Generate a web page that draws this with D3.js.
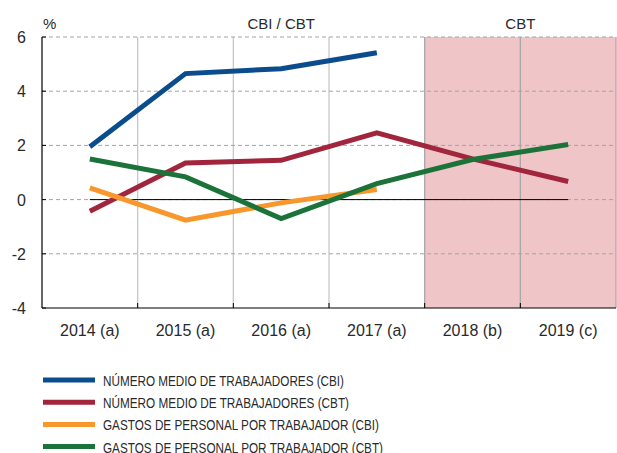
<html>
<head>
<script src="https://cdnjs.cloudflare.com/ajax/libs/d3/7.8.5/d3.min.js"></script>
<style>
  body { margin: 0; background: #fff; }
  text { font-family: "Liberation Sans", Arial, sans-serif; fill: #2a2a2a; }
</style>
</head>
<body>
<svg id="chart" width="617" height="453"></svg>
<script>
// data
var years = ["2014 (a)", "2015 (a)", "2016 (a)", "2017 (a)", "2018 (b)", "2019 (c)"];
var yTicks = [6, 4, 2, 0, -2, -4];
var numCBI = [1.95, 4.65, 4.83, 5.42, null, null];
var numCBT = [-0.43, 1.35, 1.45, 2.46, 1.5, 0.67];
var gasCBI = [0.43, -0.76, -0.12, 0.37, null, null];
var gasCBT = [1.5, 0.84, -0.7, 0.59, 1.48, 2.03];
var seriesNames = [
  "NÚMERO MEDIO DE TRABAJADORES (CBI)",
  "NÚMERO MEDIO DE TRABAJADORES (CBT)",
  "GASTOS DE PERSONAL POR TRABAJADOR (CBI)",
  "GASTOS DE PERSONAL POR TRABAJADOR (CBT)"
];
var nameWidths = [241, 246, 276, 280];
var colors = ["#0b4d8c", "#a1263d", "#f7972c", "#1b733a"];
var series = [numCBI, numCBT, gasCBI, gasCBT];

var svg = d3.select("#chart");
var pLeft = 42, pRight = 616, pTop = 37, pBottom = 308;

var x = d3.scaleBand().domain(years).range([pLeft, pRight]).padding(0);
var y = d3.scaleLinear().domain([-4, 6]).range([pBottom, pTop]);

// shaded area (CBT only)
svg.append("rect")
  .attr("x", x("2018 (b)"))
  .attr("y", y(6))
  .attr("width", x.bandwidth() * 2)
  .attr("height", y(-4) - y(6))
  .attr("fill", "#efc5c8");

// vertical separators between years
years.forEach(function(d, i) {
  if (i == 0) return;
  var shaded = i >= 4;
  svg.append("line")
    .attr("x1", x(d)).attr("x2", x(d))
    .attr("y1", y(6)).attr("y2", y(-4))
    .attr("stroke", shaded ? "#a8a8a8" : "#c8c8c8")
    .attr("stroke-width", 1.3);
});
svg.append("line")
  .attr("x1", pRight).attr("x2", pRight)
  .attr("y1", y(6)).attr("y2", y(-4))
  .attr("stroke", "#a8a8a8").attr("stroke-width", 1.3);

// dashed horizontal grid
yTicks.forEach(function(t) {
  if (t == -4) return;
  svg.append("line")
    .attr("x1", pLeft).attr("x2", pRight)
    .attr("y1", y(t)).attr("y2", y(t))
    .attr("stroke", "#a4a4a4")
    .attr("stroke-dasharray", "4,3");
});

// zero line
svg.append("line")
  .attr("x1", x(years[0]) + x.bandwidth() / 2)
  .attr("x2", x(years[5]) + x.bandwidth() / 2)
  .attr("y1", y(0)).attr("y2", y(0))
  .attr("stroke", "#000").attr("stroke-width", 1);

// axes
svg.append("line")
  .attr("x1", pLeft).attr("x2", pLeft)
  .attr("y1", y(6)).attr("y2", y(-4))
  .attr("stroke", "#000").attr("stroke-width", 1.2);
svg.append("line")
  .attr("x1", pLeft).attr("x2", pRight)
  .attr("y1", y(-4)).attr("y2", y(-4))
  .attr("stroke", "#000").attr("stroke-width", 1.2);
years.forEach(function(d, i) {
  if (i == 0) return;
  svg.append("line")
    .attr("x1", x(d)).attr("x2", x(d))
    .attr("y1", y(-4) - 5).attr("y2", y(-4))
    .attr("stroke", "#000").attr("stroke-width", 1);
});
yTicks.forEach(function(t) {
  svg.append("line")
    .attr("x1", pLeft).attr("x2", pLeft + 4)
    .attr("y1", y(t)).attr("y2", y(t))
    .attr("stroke", "#000");
  svg.append("text")
    .attr("x", 26)
    .attr("y", y(t) + 6)
    .attr("text-anchor", "end")
    .style("font-size", "16px")
    .text(t);
});
years.forEach(function(d) {
  svg.append("text")
    .attr("x", x(d) + x.bandwidth() / 2)
    .attr("y", 336)
    .attr("text-anchor", "middle")
    .style("font-size", "16px")
    .text(d);
});

// top labels
svg.append("text").attr("x", 43).attr("y", 29).style("font-size", "15px").text("%");
svg.append("text")
  .attr("x", x("2016 (a)") + x.bandwidth() / 2)
  .attr("y", 29).attr("text-anchor", "middle")
  .style("font-size", "15px").text("CBI / CBT");
svg.append("text")
  .attr("x", x("2019 (c)"))
  .attr("y", 29).attr("text-anchor", "middle")
  .style("font-size", "15px").text("CBT");

// lines
var line = d3.line()
  .defined(function(d) { return d != null; })
  .x(function(d, i) { return x(years[i]) + x.bandwidth() / 2; })
  .y(function(d) { return y(d); });

series.forEach(function(s, k) {
  svg.append("path")
    .datum(s)
    .attr("d", line)
    .attr("fill", "none")
    .attr("stroke", colors[k])
    .attr("stroke-width", 5);
});

// legend (condensed type squeezed with textLength)
var legend = svg.append("g").attr("class", "legend");
seriesNames.forEach(function(name, k) {
  var ly = 380 + k * 22.2;
  legend.append("line")
    .attr("x1", 43).attr("x2", 95)
    .attr("y1", ly).attr("y2", ly)
    .attr("stroke", colors[k]).attr("stroke-width", 5);
  legend.append("text")
    .attr("x", 103).attr("y", ly + 6)
    .attr("textLength", nameWidths[k])
    .attr("lengthAdjust", "spacingAndGlyphs")
    .style("font-size", "15px")
    .text(name);
});
</script>
</body>
</html>
